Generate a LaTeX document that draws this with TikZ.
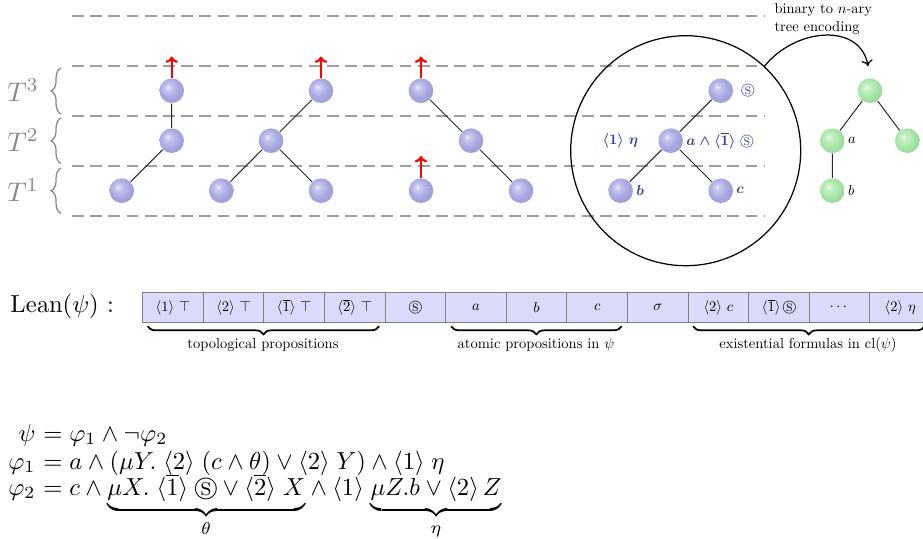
\documentclass[tikz,border=0pt]{standalone}
\usepackage{amsmath,amssymb,graphicx}
\usetikzlibrary{decorations.pathreplacing,shadings,arrows.meta}
\definecolor{lblue}{RGB}{50,60,160}
\definecolor{cellfill}{RGB}{218,218,250}
\definecolor{tgray}{RGB}{135,135,135}
\definecolor{ballblue}{RGB}{170,170,228}
\definecolor{ballgreen}{RGB}{168,232,168}
\pgfdeclareradialshading{blueball}{\pgfpoint{-8bp}{8bp}}{color(0bp)=(ballblue!20!white); color(6bp)=(ballblue!65!white); color(18bp)=(ballblue); color(32bp)=(ballblue!90!black); color(50bp)=(ballblue!90!black)}
\pgfdeclareradialshading{greenball}{\pgfpoint{-8bp}{8bp}}{color(0bp)=(ballgreen!20!white); color(6bp)=(ballgreen!65!white); color(18bp)=(ballgreen); color(32bp)=(ballgreen!90!black); color(50bp)=(ballgreen!90!black)}
\newcommand{\smtxt}[1]{\scalebox{0.59}{#1}}
\tikzset{
  ball/.style={circle,shading=blueball,minimum size=10pt,inner sep=0pt},
  gball/.style={circle,shading=greenball,minimum size=10pt,inner sep=0pt},
  levelline/.style={draw=gray!75,line width=0.8pt,dash pattern=on 4.8pt off 2.6pt},
  edge/.style={draw=black!85,line width=0.4pt},
  redarr/.style={draw=red,line width=0.9pt,-{To[length=2.6pt,width=5pt]}},
  lbl/.style={text=lblue,inner sep=1pt},
  glbl/.style={inner sep=1pt},
  cell/.style={draw=gray,fill=cellfill,minimum width=24.63pt,minimum height=12.03pt,inner sep=0pt,outer sep=0pt},
  bbrace/.style={decorate,decoration={brace,mirror,amplitude=3.3pt},line width=0.7pt},
  tbrace/.style={decorate,decoration={brace,amplitude=4pt},draw=tgray,line width=0.5pt},
  tlab/.style={text=tgray,font=\fontsize{11.2}{13}\selectfont,inner sep=0pt},
  smalltxt/.style={inner sep=0pt},
  fml/.style={inner sep=0pt}
}
\begin{document}
\begin{tikzpicture}[x=0.4065pt,y=-0.4065pt]
\useasboundingbox (0,0) rectangle (923,538);

% level lines
\foreach \yy in {16,66,116,165.7,215.7} \draw[levelline] (72,\yy) -- (765,\yy);

% T labels and braces
\node[tlab,anchor=east] (T3) at (39,90) {$T^3$};
\node[tlab,anchor=east] (T2) at (39,140) {$T^2$};
\node[tlab,anchor=east] (T1) at (39,190) {$T^1$};
\draw[tbrace] (61,114) -- (61,68);
\draw[tbrace] (61,163.5) -- (61,118);
\draw[tbrace] (61,213.5) -- (61,168);

% tree 1
\node[ball] (a1) at (171.7,90.7) {};
\node[ball] (a2) at (171.7,140.7) {};
\node[ball] (a3) at (121.7,190.7) {};
\draw[edge] (a1) -- (a2) (a2) -- (a3);
% tree 2
\node[ball] (b1) at (321,90.7) {};
\node[ball] (b2) at (271,140.7) {};
\node[ball] (b3) at (221.3,190.7) {};
\node[ball] (b4) at (321,190.7) {};
\draw[edge] (b1) -- (b2) (b2) -- (b3) (b2) -- (b4);
% tree 3
\node[ball] (d1) at (421,90.7) {};
\node[ball] (d2) at (471,140.7) {};
\node[ball] (d3) at (521,190.7) {};
\node[ball] (d4) at (421,190.7) {};
\draw[edge] (d1) -- (d2) (d2) -- (d3);

% red arrows
\coordinate (a1t) at (171.7,56.5);
\coordinate (b1t) at (321,56.5);
\coordinate (d1t) at (421,56.5);
\coordinate (d4t) at (421,156);
\draw[redarr] (a1) -- (a1t);
\draw[redarr] (b1) -- (b1t);
\draw[redarr] (d1) -- (d1t);
\draw[redarr] (d4) -- (d4t);

% circled tree
\node[circle,draw,line width=0.5pt,minimum size=93.5pt,inner sep=0pt] (bigc) at (685.7,150.7) {};
\node[ball] (e1) at (720.7,90.7) {};
\node[ball] (e2) at (670.7,140.7) {};
\node[ball] (e3) at (620.7,190.7) {};
\node[ball] (e4) at (720.7,190.7) {};
\draw[edge] (e1) -- (e2) (e2) -- (e3) (e2) -- (e4);
\node[lbl,anchor=west] (e1l) at ([xshift=2pt]e1.east) {\smtxt{$\circledS$}};
\node[lbl,anchor=west] (e2r) at (e2.east) {\smtxt{$\boldsymbol{a\wedge\langle\overline{1}\rangle}\ \circledS$}};
\node[lbl,anchor=east] (e2l) at (641,140.7) {\smtxt{$\boldsymbol{\langle 1\rangle\ \eta}$}};
\node[lbl,anchor=west] (e3l) at (e3.east) {\smtxt{$\boldsymbol{b}$}};
\node[lbl,anchor=west] (e4l) at (e4.east) {\smtxt{$\boldsymbol{c}$}};

% green tree
\node[gball] (g1) at (870,90.7) {};
\node[gball] (g2) at (832.3,140.7) {};
\node[gball] (g3) at (907.3,140.7) {};
\node[gball] (g4) at (832.3,190.7) {};
\draw[edge] (g1) -- (g2) (g1) -- (g3) (g2) -- (g4);
\node[glbl,anchor=west] (g2l) at (g2.east) {\smtxt{$a$}};
\node[glbl,anchor=west] (g4l) at (g4.east) {\smtxt{$b$}};

% encoding arrow
\coordinate (arrend) at (868,66);
\draw[line width=0.5pt,-{To[length=2.4pt,width=4.6pt]}] (bigc.47) .. controls (795,28) and (860,22) .. (arrend);
\node[smalltxt,anchor=north west] (enc) at (774,1) {\smtxt{\begin{tabular}{@{}l@{}}binary to $n$-ary\\tree encoding\end{tabular}}};

% Lean array
\node[anchor=base west,inner sep=0pt] (lean) at (10,312) {$\mathrm{Lean}(\psi)$ :};
\foreach \t [count=\i] in {{$\langle 1\rangle\ \top$},{$\langle 2\rangle\ \top$},{$\langle\overline{1}\rangle\ \top$},{$\langle\overline{2}\rangle\ \top$},{$\circledS$},{$a$},{$b$},{$c$},{$\sigma$},{$\langle 2\rangle\ c$},{$\langle\overline{1}\rangle\,\circledS$},{$\cdots$},{$\langle 2\rangle\ \eta$}}
  \node[cell] (c\i) at ({142.7+60.6*(\i-0.5)},307.5) {\smtxt{\t}};

\draw[bbrace] ([xshift=2pt,yshift=-1.6pt]c1.south west) -- ([xshift=-2.4pt,yshift=-1.6pt]c4.south east);
\draw[bbrace] ([xshift=2.2pt,yshift=-1.6pt]c6.south west) -- ([xshift=-2.4pt,yshift=-1.6pt]c8.south east);
\draw[bbrace] ([xshift=2pt,yshift=-1.6pt]c10.south west) -- ([xshift=-2.4pt,yshift=-1.6pt]c13.south east);
\node[smalltxt] (top) at (263,345) {\smtxt{topological propositions}};
\node[smalltxt] (atom) at (536,345) {\smtxt{atomic propositions in $\psi$}};
\node[smalltxt] (exist) at (808,345) {\smtxt{existential formulas in $\mathrm{cl}(\psi)$}};

% formulas
\node[fml,anchor=base east] (l1) at (36,441) {$\psi$};
\node[fml,anchor=base west] (r1) at (36,441) {${}=\varphi_1\wedge\neg\varphi_2$};
\node[fml,anchor=base east] (l2) at (36,469) {$\varphi_1$};
\node[fml,anchor=base west] (r2) at (36,469) {${}=a\wedge(\mu Y.\;\langle 2\rangle\;(c\wedge\theta)\vee\langle 2\rangle\;Y)\wedge\langle 1\rangle\;\eta$};
\node[fml,anchor=base east] (l3) at (36,495) {$\varphi_2$};
\node[fml,anchor=base west] (r3) at (36,495) {${}=c\wedge{\underbrace{\mu X.\;\langle\overline{1}\rangle\;\circledS\vee\langle\overline{2}\rangle\;X}_{\theta}}\wedge\langle 1\rangle\;{\underbrace{\mu Z.b\vee\langle 2\rangle\,Z}_{\eta}}$};
\end{tikzpicture}
\end{document}
